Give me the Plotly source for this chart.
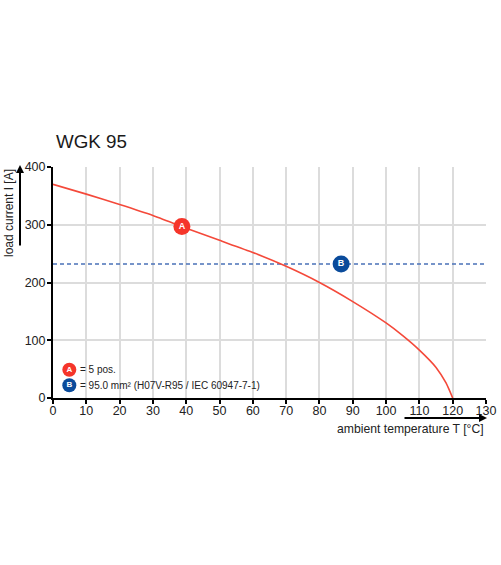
import plotly.graph_objects as go

title_text = "WGK 95"
x_label = "ambient temperature T [°C]"
y_label = "load current I [A]"
x_ticks = [0, 10, 20, 30, 40, 50, 60, 70, 80, 90, 100, 110, 120, 130]
y_ticks = [0, 100, 200, 300, 400]
curve_t = [0, 10, 20, 30, 40, 50, 60, 70, 80, 90, 100, 105, 110, 115, 118, 120]
curve_i = [370, 353, 335, 316, 294, 273, 252, 228, 200, 167, 130, 108, 83, 53, 26, 0]
limit_t = [0, 130]
limit_i = [232, 232]
badge_labels = ["A", "B"]
badge_t = [38.7, 86.5]
badge_i = [297, 232]
badge_colors = ["#f5352a", "#0a4b9b"]
key_t = [4.9, 4.9]
key_i = [49, 22]
key_text = ["= 5 pos.", "= 95.0 mm² (H07V-R95 / IEC 60947-7-1)"]
FONT = "Liberation Sans, Arial, sans-serif"

fig = go.Figure()
fig.add_trace(go.Scatter(x=limit_t, y=limit_i, mode="lines", cliponaxis=False,
                         line=dict(color="#4a72b8", width=1.6, dash="4px,3px"), hoverinfo="skip"))
fig.add_trace(go.Scatter(x=curve_t, y=curve_i, mode="lines", cliponaxis=False,
                         line=dict(color="#f4493a", width=1.6, shape="spline", smoothing=0.5), hoverinfo="skip"))
fig.add_trace(go.Scatter(x=badge_t, y=badge_i, mode="markers+text", text=badge_labels, cliponaxis=False,
                         textposition="middle center",
                         textfont=dict(family=FONT, size=9, color="white", weight="bold"),
                         marker=dict(size=17, color=badge_colors, line=dict(width=0)), hoverinfo="skip"))
fig.add_trace(go.Scatter(x=key_t, y=key_i, mode="markers+text", text=badge_labels, cliponaxis=False,
                         textposition="middle center",
                         textfont=dict(family=FONT, size=8, color="white", weight="bold"),
                         marker=dict(size=14, color=badge_colors, line=dict(width=0)), hoverinfo="skip"))

fig.add_shape(type="rect", x0=0.5, x1=71.5, y0=1.5, y1=66, layer="below",
              fillcolor="white", line=dict(width=0))

for t, i, s in zip(key_t, key_i, key_text):
    fig.add_annotation(x=t, y=i, text=s, showarrow=False, xanchor="left", yanchor="middle", xshift=9,
                       font=dict(family=FONT, size=10, color="#222222"))

fig.add_annotation(x=0, y=400, xshift=1, yshift=26, text=title_text, showarrow=False,
                   xanchor="left", yanchor="middle", font=dict(family=FONT, size=18.8, color="#1a1a1a"))
fig.add_annotation(x=130, y=0, yshift=-31, text=x_label, showarrow=False,
                   xanchor="right", yanchor="middle", font=dict(family=FONT, size=12.2, color="#222222"))
fig.add_annotation(x=0, xshift=-44, y=400, yanchor="top", text=y_label, showarrow=False,
                   xanchor="center", textangle=-90, font=dict(family=FONT, size=12, color="#222222"))
fig.add_annotation(x=0, xshift=-33, y=400, yshift=2,
                   axref="pixel", ayref="pixel", ax=0, ay=82, text="", showarrow=True,
                   arrowhead=2, arrowsize=0.8, arrowwidth=2, arrowcolor="black")
fig.add_annotation(x=130, xshift=1, y=0, yshift=-20,
                   axref="pixel", ayref="pixel", ax=-84, ay=0, text="", showarrow=True,
                   arrowhead=2, arrowsize=0.8, arrowwidth=2, arrowcolor="black")

fig.update_layout(
    width=501, height=565, autosize=False, showlegend=False,
    paper_bgcolor="white", plot_bgcolor="white",
    margin=dict(l=53, r=15, t=167, b=167),
    font=dict(family=FONT, size=12.5, color="#222222"),
    xaxis=dict(range=[0, 130], tickvals=x_ticks, showgrid=True, gridcolor="#dcdcdc", gridwidth=1.5,
               automargin=False, zeroline=False, showline=True, linecolor="black", linewidth=2,
               ticks="outside", ticklen=4, tickwidth=1.5, tickcolor="black", ticklabelstandoff=-4,
               tickfont=dict(family=FONT, size=12.5, color="#222222")),
    yaxis=dict(range=[0, 400], tickvals=y_ticks, showgrid=True, gridcolor="#dcdcdc", gridwidth=1.5,
               automargin=False, zeroline=False, showline=True, linecolor="black", linewidth=2,
               ticks="outside", ticklen=4, tickwidth=1.5, tickcolor="black", ticklabelstandoff=-1,
               tickfont=dict(family=FONT, size=12.5, color="#222222")),
)
fig.write_html("out.html", config=dict(displayModeBar=False),
               post_script="document.body.style.margin='0';")
